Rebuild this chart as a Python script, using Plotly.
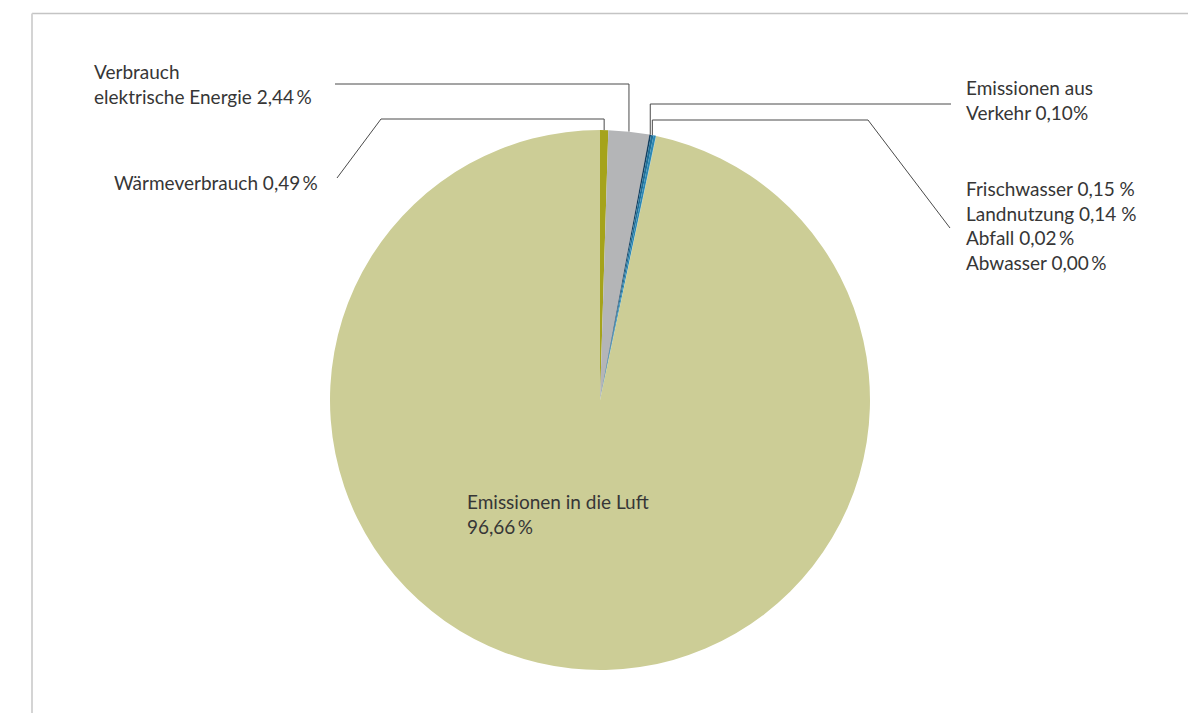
import math
import plotly.graph_objects as go

W, H = 1188, 713

# Anteile (%) im Uhrzeigersinn ab 12 Uhr
categories = [
    "Wärmeverbrauch",
    "Verbrauch elektrische Energie",
    "Emissionen aus Verkehr",
    "Frischwasser",
    "Landnutzung",
    "Abfall",
    "Abwasser",
    "Emissionen in die Luft",
]
values = [0.49, 2.44, 0.10, 0.15, 0.14, 0.02, 0.00, 96.66]
colors = ["#a5a31b", "#b4b5b7", "#163f5e", "#1f6f98", "#2d88b3", "#4a9fc6", "#7cc0dc", "#cccd96"]

labels_text = {
    "Wärmeverbrauch": "Wärmeverbrauch 0,49\u2009%",
    "Verbrauch elektrische Energie": "Verbrauch<br>elektrische Energie 2,44\u2009%",
    "Emissionen aus Verkehr": "Emissionen aus<br>Verkehr 0,10%",
    "Frischwasser": "Frischwasser 0,15 %<br>Landnutzung 0,14 %<br>Abfall 0,02\u2009%<br>Abwasser 0,00\u2009%",
    "Emissionen in die Luft": "Emissionen in die Luft<br>96,66\u2009%",
}

# Kreisgeometrie in Pixeln
CX, CY, R = 600, 400, 270


def px(x):
    return x / W


def py(y):
    return 1 - y / H


def edge_point(idx):
    total = sum(values)
    start = sum(values[:idx])
    ang = 2 * math.pi * (start + values[idx] / 2) / total
    return CX + R * math.sin(ang), CY - R * math.cos(ang)


fig = go.Figure()
fig.add_trace(go.Pie(
    labels=categories,
    values=values,
    marker=dict(colors=colors, line=dict(width=0)),
    sort=False,
    direction="clockwise",
    rotation=0,
    textinfo="none",
    hoverinfo="label+percent",
    showlegend=False,
    domain=dict(x=[px(CX - R), px(CX + R)], y=[py(CY + R), py(CY - R)]),
))

LINE = dict(color="#4a4a4a", width=1)
shapes = []


def leader(points):
    d = "M " + " L ".join(f"{px(x)},{py(y)}" for x, y in points)
    shapes.append(dict(type="path", xref="paper", yref="paper", path=d, line=LINE))


ex, ey = edge_point(0)
leader([(ex, ey), (ex, 119), (381, 119), (337, 178)])
ex, ey = edge_point(1)
leader([(ex, ey), (ex, 84), (335, 84)])
ex, ey = edge_point(2)
leader([(ex, ey), (ex, 104), (951, 104)])
ex, ey = edge_point(3)
leader([(ex, ey), (ex, 120), (868, 120), (950, 228)])

# Rahmen
BORDER = dict(color="#c4c4c4", width=1.5)
shapes.append(dict(type="line", xref="paper", yref="paper",
                   x0=px(32), y0=py(13.5), x1=1, y1=py(13.5), line=BORDER))
shapes.append(dict(type="line", xref="paper", yref="paper",
                   x0=px(32), y0=py(13.5), x1=px(32), y1=0, line=dict(color="#d4d4d4", width=2)))

FONT = dict(family="Lato, 'Open Sans', sans-serif", size=19, color="#363636")
annotations = [
    dict(text=labels_text["Verbrauch elektrische Energie"], x=px(92), y=py(84),
         xanchor="left", yanchor="middle", align="left"),
    dict(text=labels_text["Wärmeverbrauch"], x=px(320), y=py(183),
         xanchor="right", yanchor="middle", align="right"),
    dict(text=labels_text["Emissionen aus Verkehr"], x=px(964), y=py(100),
         xanchor="left", yanchor="middle", align="left"),
    dict(text=labels_text["Frischwasser"], x=px(964), y=py(225),
         xanchor="left", yanchor="middle", align="left"),
    dict(text=labels_text["Emissionen in die Luft"], x=px(465), y=py(514),
         xanchor="left", yanchor="middle", align="left"),
]
for a in annotations:
    a.update(xref="paper", yref="paper", showarrow=False, font=FONT)

fig.update_layout(
    width=W, height=H,
    margin=dict(l=0, r=0, t=0, b=0),
    paper_bgcolor="white",
    plot_bgcolor="white",
    shapes=shapes,
    annotations=annotations,
)

fig.write_html("out.html")
